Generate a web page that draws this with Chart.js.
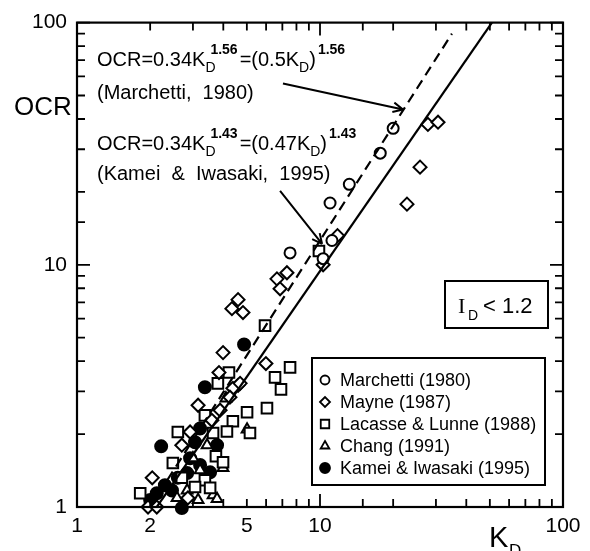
<!DOCTYPE html>
<html>
<head>
<meta charset="utf-8">
<script src="https://cdn.jsdelivr.net/npm/chart.js@4.4.0/dist/chart.umd.min.js"></script>
<style>
  html, body { margin: 0; padding: 0; background: #fff; }
  #wrap { width: 590px; height: 551px; }
</style>
</head>
<body>
<div id="wrap"><canvas id="ocr-chart" width="590" height="551"></canvas></div>
<script>
// OCR vs K_D (log-log)

const marchettiKD  = [20.0, 17.7, 13.2, 11.0, 7.53, 10.3, 11.2];
const marchettiOCR = [36.6, 28.9, 21.5, 18.0, 11.2, 10.6, 12.6];

const mayneKD  = [27.8, 30.6, 25.8, 22.8, 11.8, 10.3, 6.65, 7.31, 6.85, 4.60, 4.34, 4.82, 3.99, 5.99,
                  3.84, 4.60, 4.38, 3.15, 2.92, 2.70, 2.04, 1.96, 2.13, 2.86, 4.26, 4.69, 3.59, 3.88];
const mayneOCR = [38.0, 38.8, 25.3, 17.8, 13.2, 10.0, 8.75, 9.27, 7.96, 7.18, 6.59, 6.35, 4.34, 3.91,
                  3.59, 3.18, 3.09, 2.63, 2.04, 1.80, 1.32, 1.00, 1.00, 1.09, 2.84, 3.24, 2.28, 2.51];

const lacasseKD  = [9.9, 5.94, 7.53, 6.53, 6.91, 4.22, 3.80, 6.05, 5.01, 4.38, 3.36, 2.60, 4.14, 3.63,
                    5.15, 2.48, 3.73, 3.99, 1.82, 3.36, 3.06, 3.53, 2.70];
const lacasseOCR = [11.4, 5.61, 3.77, 3.43, 3.06, 3.59, 3.24, 2.56, 2.46, 2.26, 2.39, 2.04, 2.05, 2.02,
                    2.02, 1.52, 1.62, 1.53, 1.14, 1.29, 1.21, 1.20, 1.32];

const changKD  = [5.01, 3.99, 2.84, 3.15, 3.63, 3.77, 2.58, 3.00, 3.43, 3.21, 4.10];
const changOCR = [2.09, 1.45, 1.17, 1.07, 1.12, 1.08, 1.09, 1.59, 1.80, 1.42, 2.81];

const kameiKD  = [4.87, 3.36, 2.22, 3.21, 3.77, 2.70, 2.13, 2.30, 3.06, 2.92, 2.84, 2.60, 3.21, 3.53, 2.46, 2.00];
const kameiOCR = [4.69, 3.12, 1.78, 2.11, 1.80, 0.99, 1.14, 1.23, 1.85, 1.59, 1.38, 1.32, 1.49, 1.39, 1.17, 1.07];

// end points of the two correlation lines
const marchettiLineKD  = [2.0, 34.9];
const marchettiLineOCR = [1.0, 90.0];
const kameiLineKD  = [2.13, 51.0];
const kameiLineOCR = [1.0, 100.0];

const xTickLabels = [1, 2, 5, 10, 100];
const yTickLabels = [1, 10, 100];

// arrows of the annotations: [fromKD, fromOCR, toKD, toOCR]
const arrowMarchetti = [7.04, 56.1, 21.96, 43.8];
const arrowKamei     = [6.85, 20.2, 10.2, 12.2];

const seriesNames = ["Marchetti (1980)", "Mayne (1987)", "Lacasse & Lunne (1988)", "Chang (1991)", "Kamei & Iwasaki (1995)"];

const toPts = (xs, ys) => xs.map((x, i) => ({ x: x, y: ys[i] }));

const SANS = "'Liberation Sans', Arial, sans-serif";

function markerSet(label, xs, ys, style, radius, fill, order) {
  return {
    label: label,
    data: toPts(xs, ys),
    showLine: false,
    pointStyle: style,
    pointRadius: radius,
    pointHoverRadius: radius,
    pointBackgroundColor: fill,
    pointBorderColor: "#000",
    pointBorderWidth: 2,
    clip: false,
    order: order
  };
}

const legendStyles = [
  { pointStyle: "circle", radius: 4.5, fill: "#fff" },
  { pointStyle: "rectRot", radius: 5, fill: "#fff" },
  { pointStyle: "rect", radius: 6, fill: "#fff" },
  { pointStyle: "triangle", radius: 5, fill: "#fff" },
  { pointStyle: "circle", radius: 5, fill: "#000" }
];

// draws text made of normal / sub / sup parts
function drawRich(ctx, x, y, parts, size) {
  let cx = x;
  let lastSubStart = null;
  parts.forEach(p => {
    if (p.t !== undefined) {
      ctx.font = size + "px " + SANS;
      ctx.fillText(p.t, cx, y);
      cx += ctx.measureText(p.t).width;
      lastSubStart = null;
    } else if (p.sub !== undefined) {
      ctx.font = Math.round(size * 0.68) + "px " + SANS;
      lastSubStart = cx;
      ctx.fillText(p.sub, cx, y + size * 0.28);
      cx += ctx.measureText(p.sub).width;
    } else if (p.sup !== undefined) {
      ctx.font = "bold " + Math.round(size * 0.7) + "px " + SANS;
      let sx = lastSubStart !== null ? lastSubStart + 5 : cx + 2;
      ctx.fillText(p.sup, sx, y - size * 0.62);
      cx = Math.max(cx, sx + ctx.measureText(p.sup).width) + 2;
      lastSubStart = null;
    }
  });
}

function drawArrow(ctx, xs, ys, arr) {
  const x1 = xs.getPixelForValue(arr[0]), y1 = ys.getPixelForValue(arr[1]);
  const x2 = xs.getPixelForValue(arr[2]), y2 = ys.getPixelForValue(arr[3]);
  ctx.beginPath();
  ctx.moveTo(x1, y1);
  ctx.lineTo(x2, y2);
  const a = Math.atan2(y2 - y1, x2 - x1);
  const L = 11;
  ctx.moveTo(x2, y2);
  ctx.lineTo(x2 - L * Math.cos(a - 0.45), y2 - L * Math.sin(a - 0.45));
  ctx.moveTo(x2, y2);
  ctx.lineTo(x2 - L * Math.cos(a + 0.45), y2 - L * Math.sin(a + 0.45));
  ctx.stroke();
}

const decorPlugin = {
  id: "decor",
  afterDatasetsDraw(chart) {
    const ctx = chart.ctx;
    const area = chart.chartArea;
    const xs = chart.scales.x, ys = chart.scales.y;
    ctx.save();
    ctx.strokeStyle = "#000";
    ctx.fillStyle = "#000";

    // frame
    ctx.lineWidth = 2.2;
    ctx.strokeRect(area.left, area.top, area.right - area.left, area.bottom - area.top);

    // inward ticks on all four sides
    ctx.lineWidth = 1.8;
    ctx.beginPath();
    xs.ticks.forEach(t => {
      const v = t.value;
      const major = Math.abs(Math.log10(v) - Math.round(Math.log10(v))) < 1e-6;
      const len = major ? 13 : 8;
      const px = xs.getPixelForValue(v);
      ctx.moveTo(px, area.bottom); ctx.lineTo(px, area.bottom - len);
      ctx.moveTo(px, area.top); ctx.lineTo(px, area.top + len);
    });
    ys.ticks.forEach(t => {
      const v = t.value;
      const major = Math.abs(Math.log10(v) - Math.round(Math.log10(v))) < 1e-6;
      const len = major ? 13 : 8;
      const py = ys.getPixelForValue(v);
      ctx.moveTo(area.left, py); ctx.lineTo(area.left + len, py);
      ctx.moveTo(area.right, py); ctx.lineTo(area.right - len, py);
    });
    ctx.stroke();

    // axis titles
    ctx.textBaseline = "alphabetic";
    ctx.textAlign = "left";
    ctx.font = "26px " + SANS;
    ctx.fillText("OCR", 14, 115);
    ctx.font = "29px " + SANS;
    ctx.fillText("K", 489, 547);
    ctx.font = "17px " + SANS;
    ctx.fillText("D", 509, 556);

    // equations
    drawRich(ctx, 97, 66, [{ t: "OCR=0.34K" }, { sub: "D" }, { sup: "1.56" }, { t: "=(0.5K" }, { sub: "D" }, { t: ")" }, { sup: "1.56" }], 20);
    ctx.font = "20px " + SANS;
    ctx.fillText("(Marchetti,  1980)", 97, 99);
    drawRich(ctx, 97, 150, [{ t: "OCR=0.34K" }, { sub: "D" }, { sup: "1.43" }, { t: "=(0.47K" }, { sub: "D" }, { t: ")" }, { sup: "1.43" }], 20);
    ctx.font = "20px " + SANS;
    ctx.fillText("(Kamei  &  Iwasaki,  1995)", 97, 180);

    ctx.lineWidth = 2;
    drawArrow(ctx, xs, ys, arrowMarchetti);
    drawArrow(ctx, xs, ys, arrowKamei);

    // I_D box
    ctx.fillStyle = "#fff";
    ctx.fillRect(445, 281, 103, 47);
    ctx.fillStyle = "#000";
    ctx.lineWidth = 2;
    ctx.strokeRect(445, 281, 103, 47);
    ctx.font = "22px 'Liberation Serif', serif";
    ctx.fillText("I", 458, 313);
    ctx.font = "14px " + SANS;
    ctx.fillText("D", 468, 320);
    ctx.font = "22px " + SANS;
    ctx.fillText("< 1.2", 483, 313);

    // legend
    ctx.fillStyle = "#fff";
    ctx.fillRect(312, 358, 233, 127);
    ctx.strokeRect(312, 358, 233, 127);
    ctx.fillStyle = "#000";
    ctx.font = "18px " + SANS;
    ctx.textBaseline = "middle";
    seriesNames.forEach((name, i) => {
      const y = 380 + i * 22;
      const st = legendStyles[i];
      ctx.fillStyle = st.fill;
      ctx.lineWidth = 1.8;
      Chart.helpers.drawPoint(ctx, { pointStyle: st.pointStyle, radius: st.radius, rotation: 0, borderWidth: 1.8 }, 325, y);
      ctx.fillStyle = "#000";
      ctx.fillText(name, 340, y + 1);
    });
    ctx.restore();
  }
};

const chart = new Chart(document.getElementById("ocr-chart"), {
  type: "scatter",
  data: {
    datasets: [
      markerSet(seriesNames[0], marchettiKD, marchettiOCR, "circle", 5.5, "#fff", 1),
      markerSet(seriesNames[1], mayneKD, mayneOCR, "rectRot", 6.5, "#fff", 2),
      markerSet(seriesNames[2], lacasseKD, lacasseOCR, "rect", 7.5, "#fff", 3),
      markerSet(seriesNames[3], changKD, changOCR, "triangle", 6.2, "#fff", 4),
      markerSet(seriesNames[4], kameiKD, kameiOCR, "circle", 6, "#000", 5),
      {
        label: "Marchetti line",
        data: toPts(marchettiLineKD, marchettiLineOCR),
        showLine: true,
        borderColor: "#000",
        borderWidth: 2.2,
        borderDash: [10, 6],
        pointRadius: 0,
        order: 0
      },
      {
        label: "Kamei line",
        data: toPts(kameiLineKD, kameiLineOCR),
        showLine: true,
        borderColor: "#000",
        borderWidth: 2.2,
        pointRadius: 0,
        order: 0
      }
    ]
  },
  options: {
    responsive: false,
    animation: false,
    devicePixelRatio: 1,
    layout: { padding: { top: 21, right: 27, left: 0, bottom: 0 } },
    plugins: { legend: { display: false }, tooltip: { enabled: false } },
    scales: {
      x: {
        type: "logarithmic",
        min: 1,
        max: 100,
        grid: { display: false, drawTicks: false },
        border: { display: false },
        afterFit(scale) { scale.height = 44; },
        ticks: {
          autoSkip: false,
          maxRotation: 0,
          padding: 7,
          color: "#000",
          font: { family: SANS, size: 21 },
          callback(v) { return xTickLabels.includes(v) ? String(v) : ""; }
        }
      },
      y: {
        type: "logarithmic",
        min: 1,
        max: 100,
        grid: { display: false, drawTicks: false },
        border: { display: false },
        afterFit(scale) { scale.width = 77; },
        ticks: {
          autoSkip: false,
          padding: 10,
          color: "#000",
          font: { family: SANS, size: 21 },
          callback(v) { return yTickLabels.includes(v) ? String(v) : ""; }
        }
      }
    }
  },
  plugins: [decorPlugin]
});
</script>
</body>
</html>
